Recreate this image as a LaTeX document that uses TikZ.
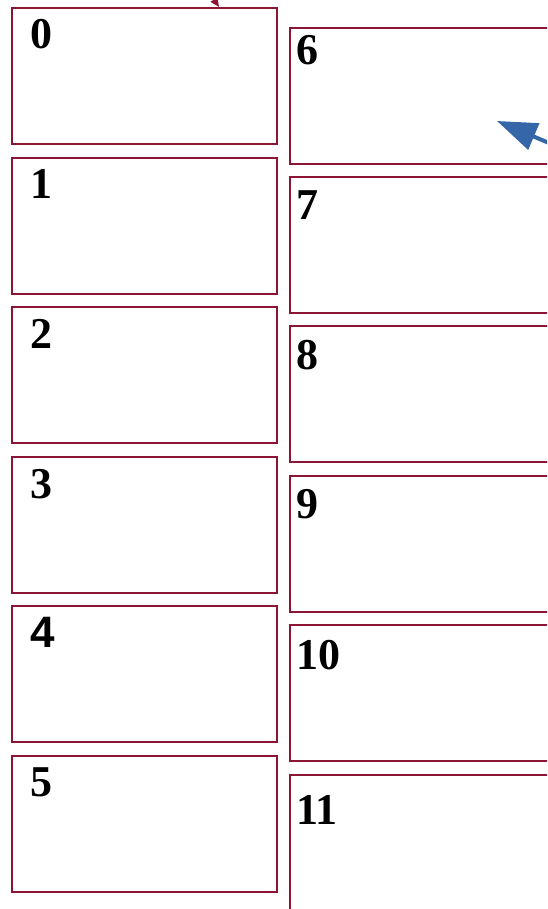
\documentclass[tikz,border=0pt]{standalone}
\usepackage{fontspec}
\setmainfont{Liberation Serif}
\newfontfamily\armf{Liberation Sans}
\usetikzlibrary{arrows.meta,calc}
\definecolor{boxred}{HTML}{8C1535}
\definecolor{arrblue}{HTML}{3566A8}
\tikzset{
  panel/.style={draw=boxred, line width=1.6pt, rectangle, anchor=north west, minimum height=136pt, inner sep=0pt},
  lpanel/.style={panel, minimum width=265pt},
  rpanel/.style={panel, minimum width=290pt},
  numlbl/.style={anchor=north west, inner sep=0pt, font=\fontsize{44}{44}\selectfont\bfseries},
}
\begin{document}
\begin{tikzpicture}[x=1pt,y=-1pt]
\useasboundingbox (0,0) rectangle (547,909);
\clip (0,0) rectangle (547,909);
% left column
\node[lpanel] (b0) at (11,7) {};
\node[lpanel] (b1) at (11,157) {};
\node[lpanel] (b2) at (11,306) {};
\node[lpanel] (b3) at (11,456) {};
\node[lpanel] (b4) at (11,605) {};
\node[lpanel] (b5) at (11,755) {};
% right column
\node[rpanel] (b6) at (289,27) {};
\node[rpanel] (b7) at (289,176) {};
\node[rpanel] (b8) at (289,325) {};
\node[rpanel] (b9) at (289,475) {};
\node[rpanel] (b10) at (289,624) {};
\node[rpanel, minimum height=160pt] (b11) at (289,774) {};
% labels
\node[numlbl] (l0) at ($(b0.north west)+(19,12)$) {0};
\node[numlbl] (l1) at ($(b1.north west)+(19,12)$) {1};
\node[numlbl] (l2) at ($(b2.north west)+(19,13)$) {2};
\node[numlbl] (l3) at ($(b3.north west)+(19,13)$) {3};
\node[numlbl] (l4) at ($(b4.north west)+(19,12)$) {\armf 4};
\node[numlbl] (l5) at ($(b5.north west)+(19,12)$) {5};
\node[numlbl] (l6) at ($(b6.north west)+(7,8)$) {6};
\node[numlbl] (l7) at ($(b7.north west)+(7,14)$) {7};
\node[numlbl] (l8) at ($(b8.north west)+(7,15)$) {8};
\node[numlbl] (l9) at ($(b9.north west)+(7,14)$) {9};
\node[numlbl] (l10) at ($(b10.north west)+(7,16)$) {10};
\node[numlbl] (l11) at ($(b11.north west)+(7,21)$) {11};
% arrows
\coordinate (rs) at (205,-14);
\draw[boxred, line width=1.6pt, -{Triangle[length=9pt,width=8pt]}] (rs) -- ($(b0.north west)+(208,0)$);
\coordinate (bs) at (575,154);
\coordinate (bt) at (497,121);
\draw[arrblue, line width=4pt, -{Triangle[length=40pt,width=28pt]}] (bs) -- (bt);
\end{tikzpicture}
\end{document}
